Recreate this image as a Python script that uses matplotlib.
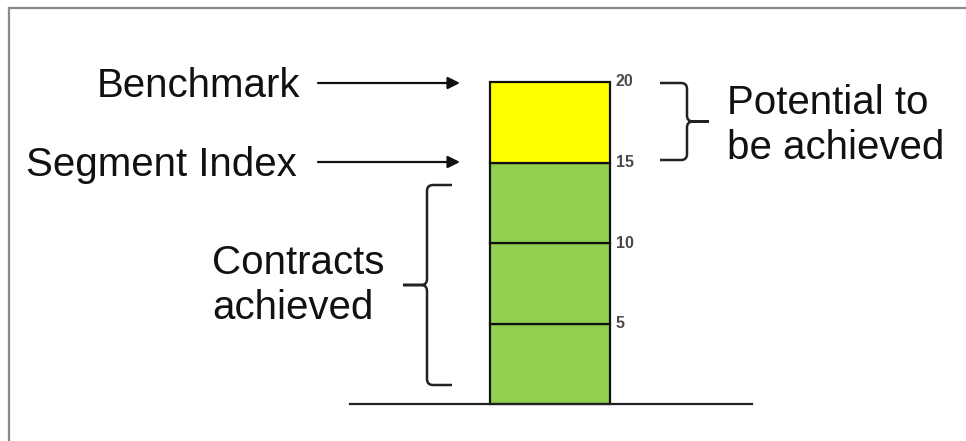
import matplotlib.pyplot as plt
from matplotlib.path import Path
from matplotlib.patches import PathPatch

plt.rcParams['font.family'] = ['Liberation Sans', 'DejaVu Sans']

# stacked segments of the index column
segments = [5, 5, 5, 5]
seg_colors = ['#92D050', '#92D050', '#92D050', '#FFFF00']
tick_values = [5, 10, 15, 20]
tick_labels = ['5', '10', '15', '20']

W, H = 966, 441
fig = plt.figure(figsize=(W / 100, H / 100), dpi=100)

# bar axes: value 0 sits on the base line, value 20 at the top of the column
y0_px, y20_px = 404, 82
unit = (y0_px - y20_px) / 20.0
ax = fig.add_axes([0, 0, 1, 1])
ax.set_xlim(0, W)
ax.set_ylim(-(H - y0_px) / unit, 20 + y20_px / unit)
ax.axis('off')

bottom = 0
for h, c in zip(segments, seg_colors):
    ax.bar(550, h, width=120, bottom=bottom, color=c, edgecolor='#111111',
           linewidth=1.6, zorder=2)
    bottom += h

for v, lab in zip(tick_values, tick_labels):
    ax.text(616, v, lab, fontsize=11.5, fontweight='bold', color='#4a4a4a',
            ha='left', va='center')

ax.plot([350, 752], [0, 0], color='#222222', lw=1.6, zorder=3)

# overlay in pixel coordinates for labels, arrows and braces
ov = fig.add_axes([0, 0, 1, 1])
ov.set_xlim(0, W)
ov.set_ylim(H, 0)
ov.axis('off')
ov.patch.set_alpha(0)

# frame on top and left
ov.plot([8.5, W], [7.5, 7.5], color='#8a8a8a', lw=1.6, clip_on=False)
ov.plot([8.5, 8.5], [7.5, H], color='#8a8a8a', lw=1.6, clip_on=False)

fs = 29
ov.text(97, 86, 'Benchmark', fontsize=fs, ha='left', va='center', color='#111111')
ov.text(26, 165, 'Segment Index', fontsize=fs, ha='left', va='center', color='#111111')
ov.text(298, 263, 'Contracts', fontsize=fs, ha='center', va='center', color='#111111')
ov.text(293, 308, 'achieved', fontsize=fs, ha='center', va='center', color='#111111')
ov.text(727, 103, 'Potential to', fontsize=fs, ha='left', va='center', color='#111111')
ov.text(727, 148, 'be achieved', fontsize=fs, ha='left', va='center', color='#111111')

for y in (83, 162):
    ov.annotate('', xy=(460, y), xytext=(318, y),
                arrowprops=dict(arrowstyle='-|>', color='#111111', lw=1.6,
                                mutation_scale=18, shrinkA=0, shrinkB=0))


def brace(x_end, x_spine, x_tip, y_top, y_bot, r=6):
    s = 1 if x_tip > x_spine else -1
    ym = (y_top + y_bot) / 2
    verts = [(x_end, y_top), (x_spine - s * r, y_top), (x_spine, y_top), (x_spine, y_top + r),
             (x_spine, ym - r), (x_spine, ym), (x_spine + s * r, ym),
             (x_tip, ym), (x_spine + s * r, ym), (x_spine, ym), (x_spine, ym + r),
             (x_spine, y_bot - r), (x_spine, y_bot), (x_spine - s * r, y_bot), (x_end, y_bot)]
    codes = [Path.MOVETO, Path.LINETO, Path.CURVE3, Path.CURVE3,
             Path.LINETO, Path.CURVE3, Path.CURVE3,
             Path.LINETO, Path.LINETO, Path.CURVE3, Path.CURVE3,
             Path.LINETO, Path.CURVE3, Path.CURVE3, Path.LINETO]
    ov.add_patch(PathPatch(Path(verts, codes), fill=False, edgecolor='#222222', lw=1.8))


brace(660, 687, 709, 83, 160)
brace(452, 427, 403, 185, 385)

fig.savefig('out.png', dpi=100)
